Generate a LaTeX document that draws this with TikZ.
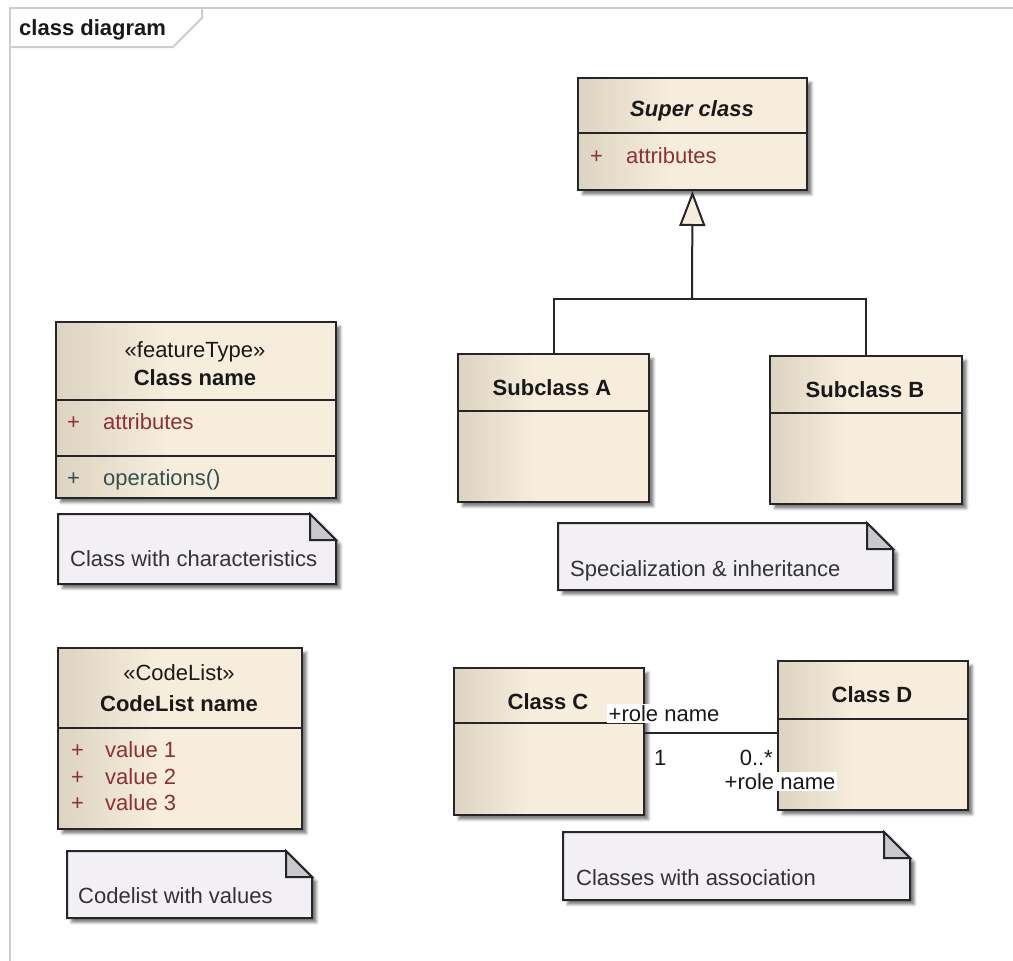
\documentclass[tikz,border=0pt]{standalone}
\usepackage{fontspec}
\setmainfont{Liberation Sans}
\usetikzlibrary{arrows.meta,calc,shadows.blur}

\definecolor{boxL}{RGB}{221,211,193}
\definecolor{boxR}{RGB}{247,237,221}
\definecolor{notefill}{RGB}{242,239,245}
\definecolor{foldfill}{RGB}{200,200,205}
\definecolor{attrred}{RGB}{140,50,50}
\definecolor{opgreen}{RGB}{52,80,80}
\definecolor{edge}{RGB}{38,38,38}
\definecolor{framegray}{RGB}{205,205,205}
\definecolor{txt}{RGB}{25,25,25}

% left edge sits at 25bp, right edge at 75bp of the shading
\pgfdeclarehorizontalshading{classfill}{100bp}{color(0bp)=(boxL); color(25bp)=(boxL); color(45bp)=(boxR); color(100bp)=(boxR)}

\tikzset{
  softshadow/.style={blur shadow={shadow xshift=4.5pt, shadow yshift=-4.5pt,
      shadow blur radius=2.5pt, shadow opacity=50}},
  classbox/.style={draw=edge, line width=2pt, shading=classfill, inner sep=0pt,
      anchor=north west, softshadow},
  cdiv/.style={draw=edge, line width=2pt},
  notebody/.style={draw=edge, line width=2pt, fill=notefill, line join=miter, softshadow},
  notefold/.style={draw=edge, line width=2pt, fill=foldfill, line join=miter},
  lbl/.style={inner sep=0pt, text=txt, font=\fontsize{22}{26}\selectfont},
  blbl/.style={lbl, font=\fontsize{22}{26}\selectfont\bfseries, yshift=-1.5pt},
  attr/.style={lbl, text=attrred, anchor=mid west, yshift=-5pt},
  oper/.style={lbl, text=opgreen, anchor=mid west, yshift=-5pt},
  notetext/.style={lbl, text=black!80, anchor=mid west, yshift=-5.5pt},
  link/.style={draw=edge, line width=2pt},
  rolelbl/.style={lbl, fill=white, inner sep=1.5pt, anchor=mid west, yshift=-5pt},
  multlbl/.style={lbl, yshift=-5pt},
}

% folded-corner note: name, top-left x,y, bottom-right x,y
\newcommand\umlnote[5]{%
  \filldraw[notebody] (#2,#3) -- ({#4-26},#3) -- (#4,{#3+26}) -- (#4,#5) -- (#2,#5) -- cycle;
  \filldraw[notefold] ({#4-26},#3) -- ({#4-26},{#3+26}) -- (#4,{#3+26}) -- cycle;
  \coordinate (#1) at (#2,#5);
}

\begin{document}
\begin{tikzpicture}[x=1pt,y=-1pt]
\useasboundingbox (0,0) rectangle (1013,961);

% diagram frame and its name tab
\draw[framegray, line width=2pt] (1013,8) -- (10,8) -- (10,961);
\draw[framegray, line width=2pt] (10,47) -- (173,47) -- (202,18) -- (202,8);
\node[lbl, font=\fontsize{22}{26}\selectfont\bfseries, anchor=mid west, yshift=-5.5pt] (title) at (19,27) {class diagram};

% ---- class with characteristics
\node[classbox, minimum width=280pt, minimum height=176pt] (feat) at (55,321) {};
\draw[cdiv] (55,400) -- (335,400);
\draw[cdiv] (55,456) -- (337,456);
\node[lbl, yshift=-2pt] (featSt) at (195,350) {«featureType»};
\node[blbl] (featName) at (195,376) {Class name};
\node[attr] (featP1) at (67,422) {+};
\node[attr] (featA) at (103,422) {attributes};
\node[oper] (featP2) at (67,478) {+};
\node[oper] (featO) at (103,478) {operations()};
\umlnote{noteFeat}{58}{514}{336}{584}
\node[notetext] (noteFeatText) at (70,558) {Class with characteristics};

% ---- code list
\node[classbox, minimum width=244pt, minimum height=181pt] (code) at (57,647) {};
\draw[cdiv] (57,728) -- (301,728);
\node[lbl] (codeSt) at (179,673) {«CodeList»};
\node[blbl] (codeName) at (179,702) {CodeList name};
\node[attr] (codeP1) at (71,750) {+};
\node[attr] (codeV1) at (105,750) {value 1};
\node[attr] (codeP2) at (71,777) {+};
\node[attr] (codeV2) at (105,777) {value 2};
\node[attr] (codeP3) at (71,803) {+};
\node[attr] (codeV3) at (105,803) {value 3};
\umlnote{noteCode}{67}{851}{312}{918}
\node[notetext] (noteCodeText) at (78,895) {Codelist with values};

% ---- specialization
\node[classbox, minimum width=229pt, minimum height=112pt] (super) at (577,77) {};
\draw[cdiv] (577,133) -- (806,133);
\node[lbl, font=\fontsize{22}{26}\selectfont\bfseries\itshape, yshift=-2.5pt] (superName) at (692,108) {Super class};
\node[attr] (superP) at (590,156) {+};
\node[attr] (superA) at (626,156) {attributes};

\node[classbox, minimum width=191pt, minimum height=148pt] (subA) at (457,353) {};
\draw[cdiv] (457,411) -- (648,411);
\node[blbl] (subAName) at (552,386) {Subclass A};

\node[classbox, minimum width=192pt, minimum height=148pt] (subB) at (769,355) {};
\draw[cdiv] (769,413) -- (961,413);
\node[blbl] (subBName) at (865,388) {Subclass B};

\coordinate (jn) at (692,299);
\draw[link] (subA.north) |- (jn);
\draw[link] (subB.north) |- (jn);
\draw[link, -{Triangle[length=35pt, width=26pt, fill=boxR]}] (jn) -- (super.south);

\umlnote{noteSpec}{558}{523}{893}{590}
\node[notetext] (noteSpecText) at (570,568) {Specialization \& inheritance};

% ---- association
\node[classbox, minimum width=190pt, minimum height=147pt] (classC) at (453,667) {};
\draw[cdiv] (453,723) -- (643,723);
\node[blbl] (classCName) at (548,700) {Class C};

\node[classbox, minimum width=190pt, minimum height=149pt] (classD) at (777,660) {};
\draw[cdiv] (777,719) -- (967,719);
\node[blbl] (classDName) at (872,693) {Class D};

\draw[link] ($(classC.north east)+(0,66)$) -- ($(classD.north west)+(0,73)$);
\node[rolelbl] (roleC) at (607,714) {+role name};
\node[multlbl, anchor=mid west] (multC) at (654,758) {1};
\node[multlbl, anchor=mid east] (multD) at (773,758) {0..*};
\node[rolelbl] (roleD) at (723,782) {+role name};

\umlnote{noteAssoc}{563}{832}{910}{900}
\node[notetext] (noteAssocText) at (576,877) {Classes with association};

\end{tikzpicture}
\end{document}
